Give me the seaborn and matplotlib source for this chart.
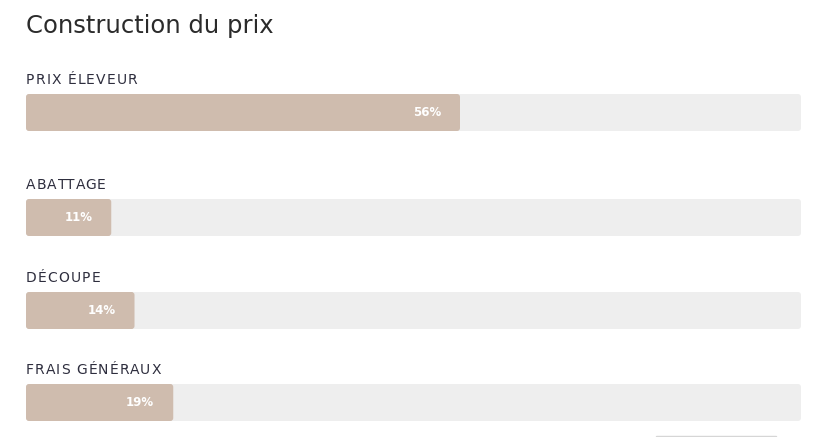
import matplotlib
matplotlib.use("Agg")
import matplotlib.pyplot as plt
from matplotlib.patches import FancyBboxPatch, Rectangle
import seaborn as sns
import pandas as pd

# data
categories = ["PRIX ÉLEVEUR", "ABATTAGE", "DÉCOUPE", "FRAIS GÉNÉRAUX"]
shares = [56, 11, 14, 19]
title = "Construction du prix"

# layout in pixels (top of each bar)
W, H = 818, 437
bar_left, bar_width, bar_height = 26, 775, 37
bar_tops = [94, 199, 292, 384]

fill_color = "#cfbcae"
track_color = "#eeeeee"

sns.set_theme(style="white")
plt.rcParams["font.family"] = ["DejaVu Sans"]

fig = plt.figure(figsize=(W / 100, H / 100), dpi=100)
fig.patch.set_facecolor("white")
renderer = fig.canvas.get_renderer()


def spaced_text(x_px, y_px, s, spacing, **kw):
    # draw a label with letter spacing, one glyph at a time
    probe = fig.text(0, 0, "|", **kw)
    prop = probe.get_fontproperties()
    bar_w = renderer.get_text_width_height_descent("|", prop, ismath=False)[0]
    probe.remove()
    for i, ch in enumerate(s):
        if ch == " ":
            continue
        w = 0
        if i:
            w = renderer.get_text_width_height_descent(s[:i] + "|", prop, ismath=False)[0] - bar_w
        fig.text((x_px + w + i * spacing) / W, 1 - y_px / H, ch,
                 ha="left", va="baseline", **kw)


def round_bars(ax, radius_px):
    # swap the square seaborn bars for slightly rounded ones
    x_per_px = 100 / bar_width
    y_per_px = 1 / bar_height
    for p in list(ax.patches):
        x, y = p.get_x(), p.get_y()
        w, h = p.get_width(), p.get_height()
        fb = FancyBboxPatch((x, y), w, h,
                            boxstyle=f"round,pad=0,rounding_size={radius_px * x_per_px}",
                            mutation_aspect=y_per_px / x_per_px,
                            facecolor=p.get_facecolor(), edgecolor="none")
        p.remove()
        ax.add_patch(fb)


fig.text(bar_left / W, 1 - 26 / H, title, fontsize=17.5, color="#2b2b2b",
         ha="left", va="center")

for cat, val, top in zip(categories, shares, bar_tops):
    ax = fig.add_axes([bar_left / W, 1 - (top + bar_height) / H,
                       bar_width / W, bar_height / H])
    df = pd.DataFrame({"cat": [cat], "track": [100], "val": [val]})
    sns.barplot(data=df, x="track", y="cat", color=track_color, width=1.0,
                ax=ax, saturation=1, linewidth=0)
    sns.barplot(data=df, x="val", y="cat", color=fill_color, width=1.0,
                ax=ax, saturation=1, linewidth=0)
    ax.set_xlim(0, 100)
    ax.set_ylim(0.5, -0.5)
    ax.axis("off")
    round_bars(ax, 3)
    # value label inside the fill, right aligned
    ax.annotate(f"{val}%", xy=(val, 0), xytext=(-19, 0),
                textcoords="offset pixels", ha="right", va="center",
                fontsize=8.5, color="white", fontweight="bold")
    # category label above the bar
    spaced_text(bar_left, top - 10, cat, 1.1, fontsize=10, color="#2e2e3e")

# edge of the next block, cut off at the bottom of the crop
fig.patches.append(Rectangle((656 / W, 0), 120 / W, 1.5 / H,
                             transform=fig.transFigure, color="#d6d6d6",
                             figure=fig))

fig.savefig("out.png", dpi=100, facecolor="white")
